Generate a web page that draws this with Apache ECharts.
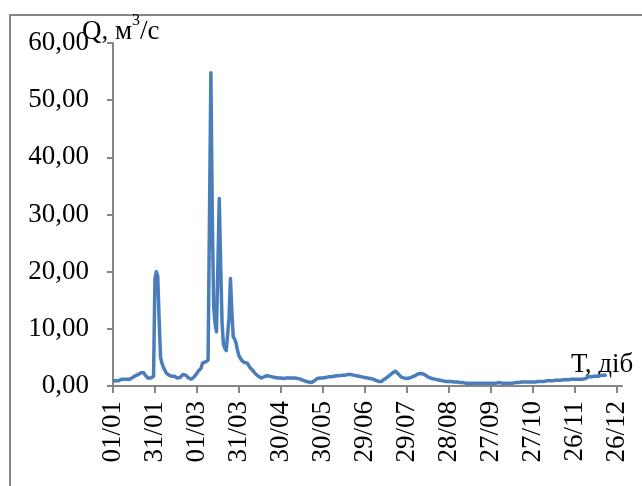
<!DOCTYPE html>
<html>
<head>
<meta charset="utf-8">
<script src="https://cdn.jsdelivr.net/npm/echarts@6/dist/echarts.min.js"></script>
<style>
  html, body { margin: 0; padding: 0; background: #fff; }
  #chart { width: 642px; height: 486px; }
</style>
</head>
<body>
<div id="chart"></div>
<script>
// Labels shown under every 30th day of the year
const tickLabels = ['01/01', '31/01', '01/03', '31/03', '30/04', '30/05', '29/06',
                    '29/07', '28/08', '27/09', '27/10', '26/11', '26/12'];
const tickStep = 30;
const yearDays = 365;

// Daily discharge Q, m3/s (day 0 = 01/01)
const discharge = [
  0.9, 0.9, 0.9, 1.0, 0.9, 1.0, 1.2, 1.2, 1.2, 1.2,
  1.2, 1.3, 1.2, 1.3, 1.5, 1.7, 1.8, 1.9, 2.0, 2.3,
  2.3, 2.2, 2.3, 1.9, 1.6, 1.4, 1.3, 1.4, 1.5, 1.7,
  18.8, 20.0, 19.2, 11.5, 5.0, 4.0, 3.3, 2.8, 2.3, 2.0,
  1.9, 1.8, 1.7, 1.8, 1.7, 1.5, 1.4, 1.2, 1.5, 1.8,
  2.0, 2.1, 1.9, 1.6, 1.4, 1.3, 1.2, 1.3, 1.6, 1.9,
  2.2, 2.6, 2.9, 3.1, 4.0, 4.2, 4.2, 4.3, 4.5, 4.8,
  54.8, 30.0, 13.8, 11.0, 9.5, 21.0, 32.8, 21.0, 11.0, 7.2,
  6.6, 6.2, 6.0, 12.0, 18.8, 13.0, 8.6, 8.2, 7.5, 6.3,
  5.3, 4.9, 4.5, 4.3, 4.1, 4.2, 4.0, 3.6, 3.2, 3.0,
  2.7, 2.4, 2.1, 1.9, 1.7, 1.5, 1.4, 1.3, 1.6, 1.9,
  1.8, 1.7, 1.7, 1.6, 1.6, 1.5, 1.5, 1.4, 1.4, 1.4,
  1.4, 1.3, 1.3, 1.4, 1.4, 1.3, 1.4, 1.4, 1.4, 1.4,
  1.4, 1.3, 1.3, 1.2, 1.2, 1.1, 1.0, 0.9, 0.8, 0.8,
  0.7, 0.6, 0.6, 0.7, 0.9, 1.1, 1.3, 1.4, 1.4, 1.4,
  1.4, 1.5, 1.5, 1.5, 1.6, 1.6, 1.6, 1.7, 1.7, 1.8,
  1.8, 1.8, 1.8, 1.9, 1.9, 1.9, 1.9, 2.0, 2.0, 2.0,
  2.0, 2.0, 1.9, 1.9, 1.8, 1.8, 1.7, 1.7, 1.6, 1.6,
  1.5, 1.5, 1.4, 1.4, 1.3, 1.2, 1.2, 1.1, 1.0, 0.9,
  0.8, 0.7, 0.8, 1.0, 1.2, 1.4, 1.5, 1.7, 1.9, 2.1,
  2.3, 2.5, 2.6, 2.5, 2.1, 1.8, 1.6, 1.5, 1.4, 1.3,
  1.3, 1.3, 1.4, 1.5, 1.6, 1.7, 1.8, 2.0, 2.1, 2.2,
  2.2, 2.2, 2.1, 2.0, 1.8, 1.6, 1.5, 1.4, 1.3, 1.2,
  1.2, 1.1, 1.1, 1.0, 1.0, 0.9, 0.9, 0.9, 0.8, 0.8,
  0.8, 0.8, 0.8, 0.7, 0.7, 0.7, 0.7, 0.7, 0.6, 0.6,
  0.6, 0.6, 0.5, 0.5, 0.5, 0.5, 0.5, 0.5, 0.5, 0.5,
  0.5, 0.5, 0.5, 0.5, 0.5, 0.5, 0.5, 0.5, 0.5, 0.5,
  0.5, 0.5, 0.5, 0.5, 0.5, 0.5, 0.6, 0.6, 0.5, 0.5,
  0.5, 0.5, 0.5, 0.5, 0.5, 0.5, 0.5, 0.6, 0.6, 0.6,
  0.6, 0.6, 0.7, 0.7, 0.7, 0.7, 0.7, 0.7, 0.7, 0.7,
  0.7, 0.7, 0.7, 0.8, 0.8, 0.8, 0.8, 0.8, 0.8, 0.8,
  0.9, 0.9, 0.9, 0.9, 0.9, 0.9, 1.0, 1.0, 1.0, 1.0,
  1.0, 1.1, 1.1, 1.1, 1.1, 1.1, 1.1, 1.2, 1.2, 1.2,
  1.2, 1.2, 1.2, 1.2, 1.2, 1.2, 1.2, 1.3, 1.3, 1.5,
  1.6, 1.6, 1.6, 1.6, 1.7, 1.7, 1.7, 1.8, 1.8, 1.8,
  1.9, 1.9, 1.9, 2.0
];

// One category per day; only every 30th one carries a label
const days = [];
for (let i = 0; i < yearDays; i++) days.push(String(i));

const serif = '"Liberation Serif", "Times New Roman", serif';
const axisGrey = '#868686';

const chart = echarts.init(document.getElementById('chart'), null, { renderer: 'canvas' });

chart.setOption({
  animation: false,
  backgroundColor: '#ffffff',
  grid: { left: 113, right: 20, top: 43, bottom: 100, containLabel: false },
  xAxis: {
    type: 'category',
    data: days,
    boundaryGap: false,
    axisLine: { lineStyle: { color: axisGrey, width: 2 } },
    axisTick: {
      show: true,
      interval: tickStep - 1,
      length: 7,
      lineStyle: { color: axisGrey, width: 2 }
    },
    axisLabel: {
      interval: tickStep - 1,
      rotate: 90,
      margin: 15,
      color: '#000',
      fontFamily: serif,
      fontSize: 27,
      formatter: (v, idx) => tickLabels[idx / tickStep] || ''
    },
    splitLine: { show: false }
  },
  yAxis: {
    type: 'value',
    min: 0,
    max: 60,
    interval: 10,
    axisLine: { show: true, lineStyle: { color: axisGrey, width: 2 } },
    axisTick: { show: true, length: 6, lineStyle: { color: axisGrey, width: 2 } },
    splitLine: { show: false },
    axisLabel: {
      margin: 24,
      color: '#000',
      fontFamily: serif,
      fontSize: 27,
      formatter: v => v.toFixed(2).replace('.', ',')
    }
  },
  series: [{
    type: 'line',
    data: discharge,
    showSymbol: false,
    symbol: 'none',
    lineStyle: { color: '#4A7EBB', width: 3.5, join: 'round' },
    z: 3
  }],
  graphic: [
    {
      type: 'rect',
      shape: { x: 10, y: 15, width: 700, height: 600 },
      style: { fill: 'none', stroke: '#878787', lineWidth: 2 },
      silent: true,
      z: -1
    },
    {
      type: 'text',
      left: 82,
      top: 13,
      style: {
        text: '{b|Q, м}{s|3}{b|/с}',
        fill: '#000',
        rich: {
          b: { fontFamily: serif, fontSize: 27, verticalAlign: 'bottom', lineHeight: 32 },
          s: { fontFamily: serif, fontSize: 16, verticalAlign: 'top', lineHeight: 32, padding: [0, 0, 15, 0] }
        }
      }
    },
    {
      type: 'text',
      left: 571,
      top: 351,
      style: {
        text: 'Т, діб',
        fill: '#000',
        fontFamily: serif,
        fontSize: 27
      }
    }
  ]
});
</script>
</body>
</html>
